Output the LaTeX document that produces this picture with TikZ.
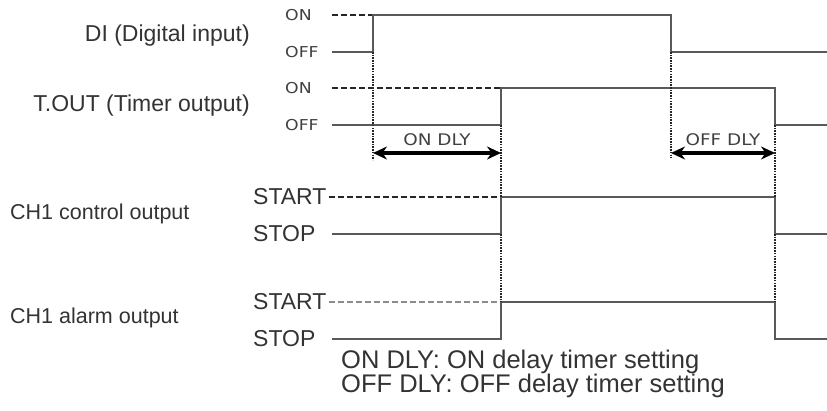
\documentclass[tikz,border=0pt]{standalone}
\usepackage{fontspec}
\setmainfont{Liberation Sans}
\newfontfamily\cadfont[FakeStretch=1.15]{DejaVu Sans}
\usetikzlibrary{arrows.meta}

\begin{document}
\begin{tikzpicture}[
    x=1pt, y=-1pt,
    >=Stealth,
    signame/.style={font=\fontsize{23}{25}\selectfont, text=black!80, inner sep=0pt},
    lvl/.style={font=\cadfont\fontsize{15}{17}\selectfont, text=black!75, inner sep=0pt, anchor=west},
    state/.style={signame, anchor=west},
    sig/.style={draw=black!65, line width=2pt},
    idle/.style={draw=black!85, line width=2.2pt, dash pattern=on 6pt off 3pt},
    guide/.style={draw=black!85, line width=2.6pt, dash pattern=on 1.6pt off 1.1pt},
    dly/.style={draw=black, line width=3.2pt, {Stealth[length=14pt,width=13pt]}-{Stealth[length=14pt,width=13pt]}}
]
\useasboundingbox (0,0) rectangle (827,411);

% Signal names
\node[signame, anchor=east] (di) at (250,36) {DI (Digital input)};
\node[signame, anchor=east] (tout) at (250,106) {T.OUT (Timer output)};
\node[signame, anchor=west, font=\fontsize{21.5}{24}\selectfont] (ctrl) at (10,214) {CH1 control output};
\node[signame, anchor=west, font=\fontsize{21.5}{24}\selectfont] (alarm) at (10,318) {CH1 alarm output};

% Levels
\node[lvl] (dion) at (285,15) {ON};
\node[lvl] (dioff) at (285,52) {OFF};
\node[lvl] (ton) at (285,88) {ON};
\node[lvl] (toff) at (285,125) {OFF};
\node[state] (cstart) at (253,197) {START};
\node[state] (cstop) at (253,234) {STOP};
\node[state] (astart) at (253,302) {START};
\node[state] (astop) at (253,339) {STOP};

% Time marks
\coordinate (t0) at (332,0);
\coordinate (t1) at (373,0);
\coordinate (t2) at (501,0);
\coordinate (t3) at (671,0);
\coordinate (t4) at (775,0);
\coordinate (t5) at (827,0);
\coordinate (dlyline) at (0,153);

% Traces
\draw[idle] (t0 |- dion) -- (t1 |- dion);
\draw[sig] (t0 |- dioff) -- (t1 |- dioff) -- (t1 |- dion) -- (t3 |- dion) -- (t3 |- dioff) -- (t5 |- dioff);
\draw[idle] (t0 |- ton) -- (t2 |- ton);
\draw[sig] (t0 |- toff) -- (t2 |- toff) -- (t2 |- ton) -- (t4 |- ton) -- (t4 |- toff) -- (t5 |- toff);
\draw[idle] ([xshift=2] cstart.east) -- (t2 |- cstart);
\draw[sig] (t0 |- cstop) -- (t2 |- cstop) -- (t2 |- cstart) -- (t4 |- cstart) -- (t4 |- cstop) -- (t5 |- cstop);
\draw[idle, draw=black!45] ([xshift=2] astart.east) -- (t2 |- astart);
\draw[sig] (t0 |- astop) -- (t2 |- astop) -- (t2 |- astart) -- (t4 |- astart) -- (t4 |- astop) -- (t5 |- astop);

% Guides
\draw[guide] (t1 |- dioff) -- ([yshift=-7] t1 |- dlyline);
\draw[guide] (t3 |- dioff) -- ([yshift=-5] t3 |- dlyline);
\draw[guide] (t2 |- toff) -- (t2 |- cstart);
\draw[guide] (t2 |- cstop) -- (t2 |- astart);
\draw[guide] (t4 |- toff) -- (t4 |- cstart);
\draw[guide] (t4 |- cstop) -- (t4 |- astart);

% Delays
\draw[dly] (t1 |- dlyline) -- node[lvl, anchor=center, yshift=13, font=\cadfont\fontsize{16}{18}\selectfont] (ondly) {ON DLY} (t2 |- dlyline);
\draw[dly] (t3 |- dlyline) -- node[lvl, anchor=center, yshift=13, font=\cadfont\fontsize{16}{18}\selectfont] (offdly) {OFF DLY} (t4 |- dlyline);

% Legend
\node[signame, anchor=west, font=\fontsize{25.5}{27}\selectfont] (leg1) at (341,362) {ON DLY: ON delay timer setting};
\node[signame, anchor=west, font=\fontsize{25.5}{27}\selectfont] (leg2) at (341,386) {OFF DLY: OFF delay timer setting};

\end{tikzpicture}
\end{document}
